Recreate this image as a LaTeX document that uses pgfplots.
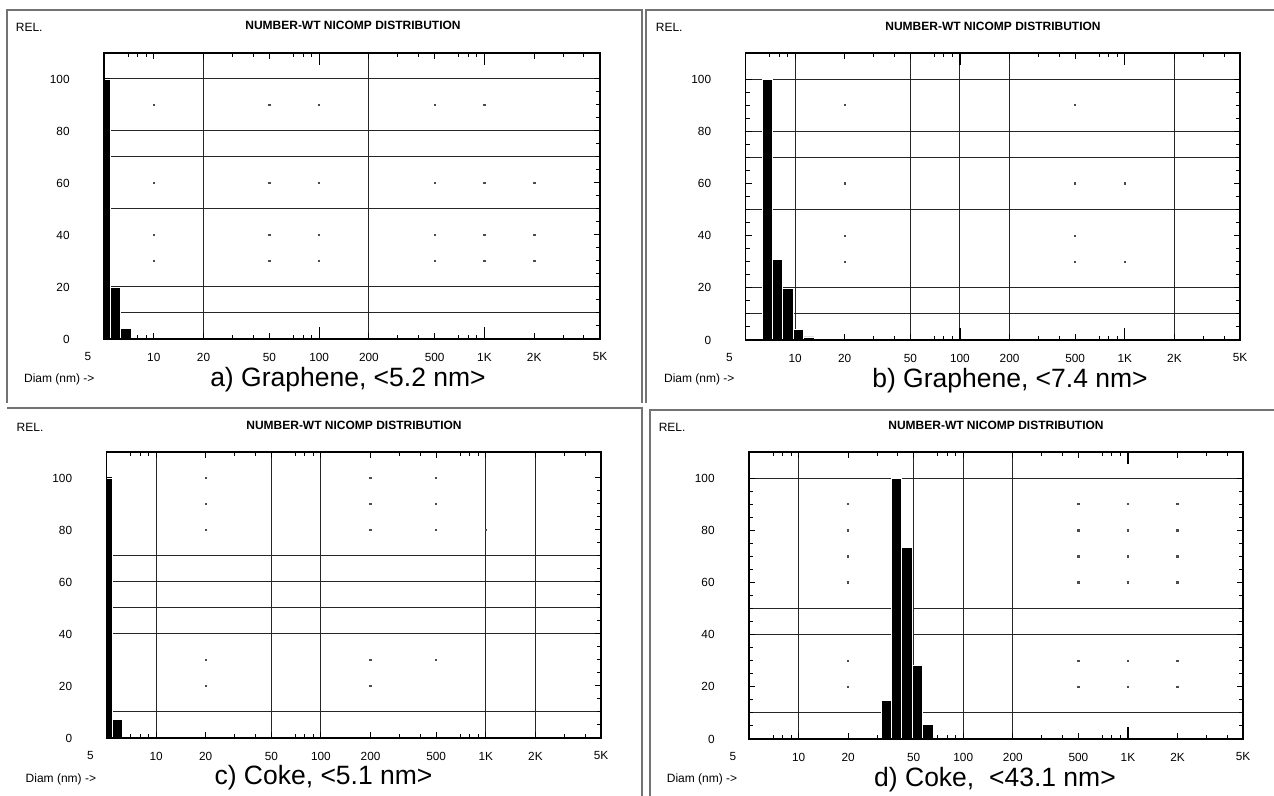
\documentclass[border=0pt]{standalone}
\usepackage{fontspec}
\setmainfont{Liberation Sans}
\usepackage{pgfplots}
\pgfplotsset{compat=1.18}

% one picture unit = one pixel of the 1274x796 reference (0.5pt)
\newcommand{\ticksize}{\fontsize{5.9}{6.5}\selectfont}
\newcommand{\smallsize}{\fontsize{6}{7}\selectfont}
\newcommand{\capsize}{\fontsize{13.25}{15}\selectfont}

\pgfplotsset{
  every axis/.append style={
    xmode=log, scale only axis, anchor=south west,
    xmin=5, xmax=5000, ymin=0, ymax=110,
    axis on top,
    axis line style={black, line width=0.6pt},
    tick style={black, line width=0.5pt},
    tick align=inside,
    xtick={5,10,20,50,100,200,500,1000,2000,5000},
    xticklabels={\makebox[0pt]{\hspace*{-16pt}5},10,20,50,100,200,500,1K,2K,5K},
    minor xtick={7,8,9,30,40,70,80,90,300,400,700,800,900,3000,4000},
    ytick={0,20,...,100}, yticklabels={0,20,40,60,80,100},
    minor y tick num=3,
    major tick length=3pt, minor tick length=2pt,
    xticklabel style={font=\ticksize, anchor=center, yshift=-9pt},
    yticklabel style={font=\ticksize, anchor=east, inner sep=0pt, xshift=-17pt},
  },
}
\tikzset{
  gl/.style={black!85, line width=0.5pt},
  lt/.style={black, line width=0.6pt},
}

\begin{document}
\begin{tikzpicture}[x=0.5pt, y=0.5pt]
\useasboundingbox (0,0) rectangle (1274,796);

% panel frames
\draw[black!55, line width=0.7pt] (7,393) -- (7,786) -- (642,786) -- (642,393);
\draw[black!55, line width=0.7pt] (646,393) -- (646,786) -- (1274,786);
\draw[black!55, line width=0.7pt] (7,388) -- (642,388) -- (642,0);
\draw[black!55, line width=0.7pt] (1274,386) -- (650,386) -- (650,0);

% a) Graphene 5.2 nm
\begin{axis}[at={(52pt,228.5pt)}, width=248pt, height=143pt]
  \draw[gl] (20,0) -- (20,110);
  \draw[gl] (200,0) -- (200,110);
  \draw[gl] (5,100) -- (5000,100);
  \draw[gl] (5,80) -- (5000,80);
  \draw[gl] (5,70) -- (5000,70);
  \draw[gl] (5,50) -- (5000,50);
  \draw[gl] (5,20) -- (5000,20);
  \draw[gl] (5,10) -- (5000,10);
  \draw[lt] (100,0) -- (100,4.6) (1000,0) -- (1000,4.6) (100,110) -- (100,105.4) (1000,110) -- (1000,105.4);
  \addplot[only marks, mark=square*, mark size=0.35pt, black!70] coordinates {(10,90) (50,90) (100,90) (500,90) (1000,90)
    (10,60) (50,60) (100,60) (500,60) (1000,60) (2000,60)
    (10,40) (50,40) (100,40) (500,40) (1000,40) (2000,40)
    (10,30) (50,30) (100,30) (500,30) (1000,30) (2000,30)};
  \addplot[ybar interval, fill=black, draw=white, line width=0.3pt] coordinates {(5,100) (5.45,20) (6.3,4) (7.3,0)};
\end{axis}

% b) Graphene 7.4 nm
\begin{axis}[at={(372.75pt,228pt)}, width=247.25pt, height=143.5pt]
  \draw[gl] (10,0) -- (10,110);
  \draw[gl] (50,0) -- (50,110);
  \draw[gl] (100,0) -- (100,110);
  \draw[gl] (200,0) -- (200,110);
  \draw[gl] (2000,0) -- (2000,110);
  \draw[gl] (5,100) -- (5000,100);
  \draw[gl] (5,80) -- (5000,80);
  \draw[gl] (5,70) -- (5000,70);
  \draw[gl] (5,50) -- (5000,50);
  \draw[gl] (5,20) -- (5000,20);
  \draw[gl] (5,10) -- (5000,10);
  \draw[lt] (100,0) -- (100,4.6) (1000,0) -- (1000,4.6) (100,110) -- (100,105.4) (1000,110) -- (1000,105.4);
  \addplot[only marks, mark=square*, mark size=0.35pt, black!70] coordinates {(20,90) (500,90) (20,60) (500,60) (1000,60)
    (20,40) (500,40) (20,30) (500,30) (1000,30)};
  \addplot[ybar interval, fill=black, draw=white, line width=0.3pt] coordinates {(6.33,100) (7.27,31) (8.37,20) (9.72,4) (11.17,1.2) (13.04,0)};
\end{axis}

% c) Coke 5.1 nm
\begin{axis}[at={(53.25pt,29pt)}, width=247.25pt, height=143pt]
  \draw[gl] (10,0) -- (10,110);
  \draw[gl] (50,0) -- (50,110);
  \draw[gl] (100,0) -- (100,110);
  \draw[gl] (1000,0) -- (1000,110);
  \draw[gl] (2000,0) -- (2000,110);
  \draw[gl] (5,70) -- (5000,70);
  \draw[gl] (5,60) -- (5000,60);
  \draw[gl] (5,50) -- (5000,50);
  \draw[gl] (5,40) -- (5000,40);
  \draw[gl] (5,10) -- (5000,10);
  \addplot[only marks, mark=square*, mark size=0.35pt, black!70] coordinates {(20,100) (200,100) (500,100)
    (20,90) (200,90) (500,90) (20,80) (200,80) (500,80) (1000,80)
    (20,30) (200,30) (500,30) (20,20) (200,20)};
  \addplot[ybar interval, fill=black, draw=white, line width=0.3pt] coordinates {(5,100) (5.4,7) (6.2,0.6) (7.25,0)};
\end{axis}

% d) Coke 43.1 nm
\begin{axis}[at={(374.5pt,28.5pt)}, width=247pt, height=143.5pt]
  \draw[gl] (10,0) -- (10,110);
  \draw[gl] (50,0) -- (50,110);
  \draw[gl] (100,0) -- (100,110);
  \draw[gl] (200,0) -- (200,110);
  \draw[gl] (5,100) -- (5000,100);
  \draw[gl] (5,50) -- (5000,50);
  \draw[gl] (5,40) -- (5000,40);
  \draw[gl] (5,10) -- (5000,10);
  \draw[lt] (1000,0) -- (1000,4.6) (1000,110) -- (1000,105.4);
  \addplot[only marks, mark=square*, mark size=0.35pt, black!70] coordinates {(20,90) (500,90) (1000,90) (2000,90)
    (20,80) (500,80) (1000,80) (2000,80) (20,70) (500,70) (1000,70) (2000,70)
    (20,60) (500,60) (1000,60) (2000,60) (20,30) (500,30) (1000,30) (2000,30)
    (20,20) (500,20) (1000,20) (2000,20)};
  \addplot[ybar interval, fill=black, draw=white, line width=0.3pt] coordinates {(31.9,14.8) (36.5,100) (42.0,73.3) (48.8,28.2) (56.4,5.5) (65.4,0)};
\end{axis}

% texts
\node[font=\bfseries\smallsize] at (353,771) {NUMBER-WT NICOMP DISTRIBUTION};
\node[font=\bfseries\smallsize] at (993,770) {NUMBER-WT NICOMP DISTRIBUTION};
\node[font=\bfseries\smallsize] at (354,371) {NUMBER-WT NICOMP DISTRIBUTION};
\node[font=\bfseries\smallsize] at (996,371) {NUMBER-WT NICOMP DISTRIBUTION};

\node[font=\smallsize, anchor=west, inner sep=0pt] at (15.5,768.5) {REL.};
\node[font=\smallsize, anchor=west, inner sep=0pt] at (655.5,768.5) {REL.};
\node[font=\smallsize, anchor=west, inner sep=0pt] at (16.3,368.5) {REL.};
\node[font=\smallsize, anchor=west, inner sep=0pt] at (658.4,368.5) {REL.};

\node[font=\smallsize, anchor=west, inner sep=0pt] at (23.7,417) {Diam (nm) ->};
\node[font=\smallsize, anchor=west, inner sep=0pt] at (663.7,417) {Diam (nm) ->};
\node[font=\smallsize, anchor=west, inner sep=0pt] at (25.3,16.5) {Diam (nm) ->};
\node[font=\smallsize, anchor=west, inner sep=0pt] at (666.5,17) {Diam (nm) ->};

\node[font=\capsize, anchor=base] at (348,409) {a) Graphene, <5.2 nm>};
\node[font=\capsize, anchor=base] at (1010,408) {b) Graphene, <7.4 nm>};
\node[font=\capsize, anchor=base] at (323.5,11) {c) Coke, <5.1 nm>};
\node[font=\capsize, anchor=base] at (995,9.5) {d) Coke,\ \ <43.1 nm>};
\end{tikzpicture}
\end{document}
